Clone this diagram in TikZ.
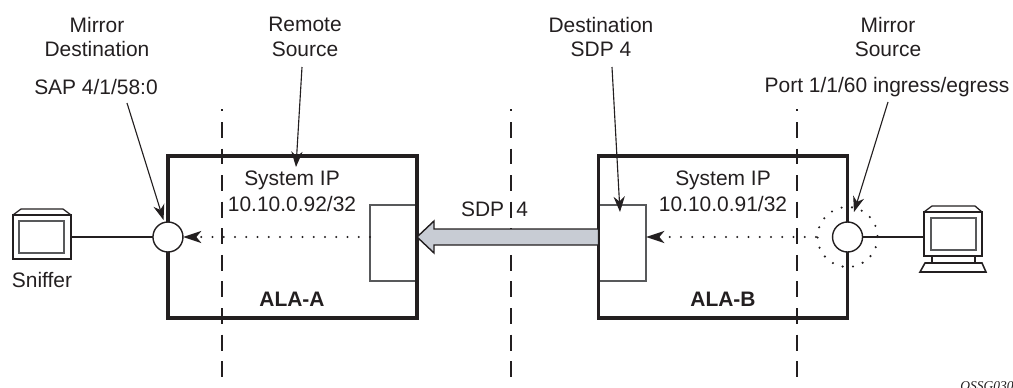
\documentclass[tikz,border=0pt]{standalone}
\usepackage{fontspec}
\setmainfont{Liberation Sans}
\newfontfamily\figfont[ItalicFont=Liberation Serif Italic]{Liberation Serif}
\usetikzlibrary{arrows.meta,calc}
\definecolor{inkc}{HTML}{231F20}
\definecolor{sdpc}{HTML}{C8CCD4}
\definecolor{thinc}{HTML}{58595B}
\tikzset{
  lbl/.style={inner sep=0pt,align=center,text=inkc,font=\fontsize{14.9}{17.7}\selectfont},
  ala/.style={draw=inkc,line width=2.2pt,minimum width=6.225cm,minimum height=4.05cm,outer sep=0pt,inner sep=0pt},
  sdpbox/.style={draw=thinc,line width=0.8pt,minimum width=1.175cm,minimum height=1.9cm,outer sep=0pt,inner sep=0pt},
  port/.style={circle,draw=inkc,fill=white,line width=1pt,minimum size=0.75cm,inner sep=0pt,outer sep=0pt},
  leader/.style={draw=inkc,line width=0.8pt,-{Stealth[length=11pt,width=8pt,inset=3.5pt]}},
  mirrored/.style={draw=inkc,line width=1.7pt,line cap=round,dash pattern=on 0pt off 8pt,-{Stealth[length=13pt,width=8.5pt,inset=3.5pt]}},
  zone/.style={draw=inkc,line width=0.8pt,dash pattern=on 11.3pt off 7.6pt},
  icon/.style={draw=inkc,line width=0.9pt,fill=white},
}
\begin{document}
\begin{tikzpicture}[x=0.025cm,y=-0.025cm]
\useasboundingbox (0,0) rectangle (1013,388);
\foreach \x in {222,511,797} {
  \draw[zone] (\x,122)--(\x,378);
  \draw[zone] (\x,109)--(\x,111);
}
\node[sdpbox] (boxa) at (393.5,243) {};
\node[sdpbox] (boxb) at (622.5,243) {};
\node[ala] (alaa) at (292.5,237) {};
\node[ala] (alab) at (723,237) {};
\node[port] (porta) at (alaa.west) {};
\node[port] (portb) at (alab.east) {};
\draw[draw=inkc,line width=1.7pt,line cap=round,dash pattern=on 0pt off 7.4pt] (portb) circle (30);
\draw[draw=inkc,line width=1pt,fill=sdpc] (alaa.east)--++(17,-16)--++(0,8)--($(alab.west)+(0,-8)$)--($(alab.west)+(0,8)$)--($(alaa.east)+(17,8)$)--++(0,8)--cycle;
\draw[mirrored] (boxa.west |- porta)--(porta);
\draw[mirrored] (816,237)--(boxb.east |- portb);
\node[lbl] (mirdst) at (97,37) {Mirror\\Destination};
\node[lbl] (sapa) at (96,87) {SAP 4/1/58:0};
\node[lbl] (remsrc) at (305,37) {Remote\\Source};
\node[lbl] (dstsdp) at (601,37) {Destination\\SDP 4};
\node[lbl] (mirsrc) at (888,37) {Mirror\\Source};
\node[lbl] (portl) at (887,87) {Port 1/1/60 ingress/egress};
\node[lbl,font=\fontsize{14.9}{18.6}\selectfont] (sysa) at (292,191) {System IP\\10.10.0.92/32};
\node[lbl,font=\fontsize{14.9}{18.6}\selectfont] (sysb) at (723,191) {System IP\\10.10.0.91/32};
\node[lbl,font=\fontsize{14.9}{17.7}\selectfont\bfseries] (namea) at (292,299) {ALA-A};
\node[lbl,font=\fontsize{14.9}{17.7}\selectfont\bfseries] (nameb) at (723,299) {ALA-B};
\node[lbl] (sdpl) at (494.5,209.5) {SDP\hspace{4.5pt} 4};
\node[lbl] (snifl) at (42,280) {Sniffer};
\node[lbl,anchor=base west,font=\fontsize{9.6}{11}\figfont\itshape] (figid) at (960,390) {OSSG030};
\coordinate (ta) at (127,103);
\coordinate (tb) at (302,67);
\coordinate (tc) at (612,67);
\coordinate (td) at (888,102);
\draw[leader] (ta)--(163.5,220);
\draw[leader] (tb)--(296,167);
\draw[leader] (tc)--(620,212);
\draw[leader] (td)--(854,212);
\draw[icon] (13,215)--(21,209)--(63,209)--(71,215);
\node[icon,minimum width=1.45cm,minimum height=1.1cm,inner sep=0pt,outer sep=0pt] (snif) at (42,237) {};
\draw[icon,draw=thinc,line width=1pt] (19,221) rectangle (64,253);
\draw[draw=inkc,line width=0.8pt] (snif.east)--(porta);
\draw[icon] (924,212)--(932,206)--(975,206)--(982,212);
\node[icon,minimum width=1.45cm,minimum height=1.1cm,inner sep=0pt,outer sep=0pt] (pc) at (953,234) {};
\draw[icon,draw=thinc,line width=1pt] (931,218) rectangle (976,250);
\draw[icon] (932,256) rectangle (975,263);
\draw[icon,line width=1.1pt] (925,263)--(982,263)--(986,272)--(920,272)--cycle;
\draw[draw=inkc,line width=0.8pt] (portb)--(pc.west |- portb);
\end{tikzpicture}
\end{document}
